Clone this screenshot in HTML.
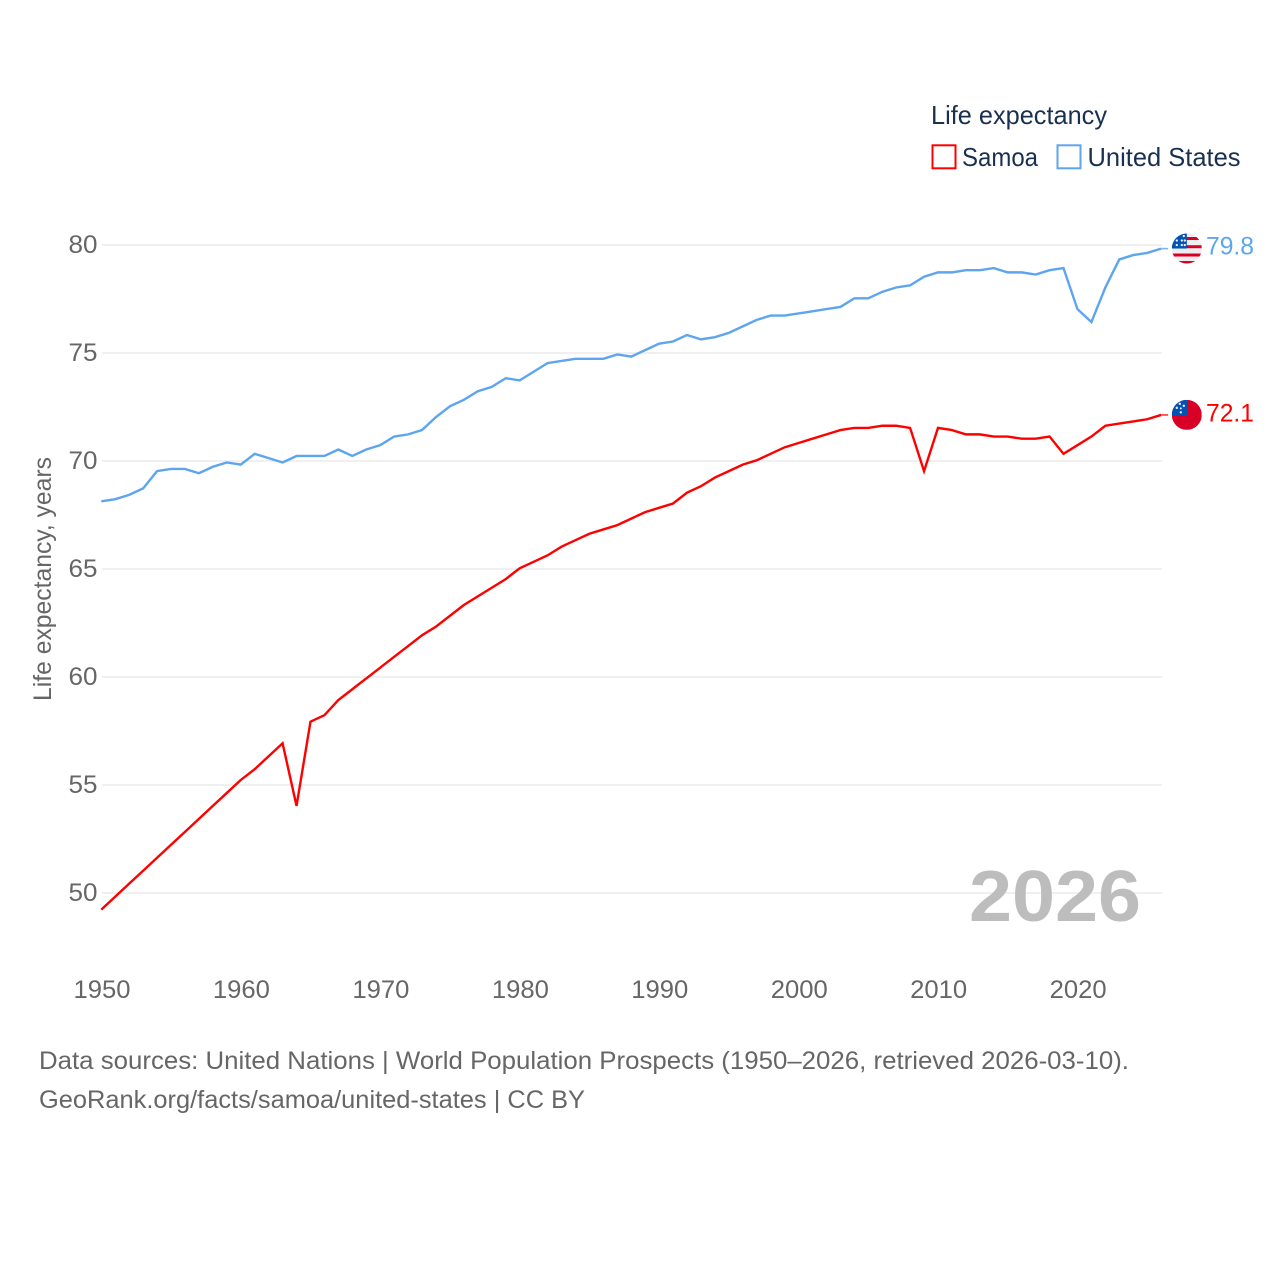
<!DOCTYPE html>
<html lang="en">
<head>
<meta charset="utf-8">
<title>Life expectancy: Samoa and United States</title>
<style>
html,body{margin:0;padding:0;background:#fff;width:1280px;height:1280px;overflow:hidden}
svg{display:block}
text{font-family:"Liberation Sans",sans-serif}
.tick{font-size:25px;fill:#666}
.foot{font-size:25px;fill:#666}
.leg{font-size:26px;fill:#1a3050}
</style>
</head>
<body>
<svg id="chart" xmlns="http://www.w3.org/2000/svg" width="1280" height="1280" viewBox="0 0 1280 1280">
  <defs>
    <clipPath id="us-clip"><circle cx="0" cy="0" r="15"/></clipPath>
    <clipPath id="ws-clip"><circle cx="0" cy="0" r="15"/></clipPath>
  </defs>
  <g id="grid"></g>
  <g id="yticks"></g>
  <g id="xticks"></g>
  <text transform="translate(51,701) rotate(-90)" font-size="25" fill="#666" textLength="244" lengthAdjust="spacingAndGlyphs">Life expectancy, years</text>
  <text x="969" y="921" font-size="72" font-weight="bold" fill="#bdbdbd" textLength="172" lengthAdjust="spacingAndGlyphs">2026</text>
  <g id="series" transform="translate(-0.7,-0.7)"></g>
  <g id="us-flag">
    <g clip-path="url(#us-clip)">
      <rect x="-15" y="-15" width="30" height="30" fill="#eeeeee"/>
      <rect x="-15" y="-11.5" width="30" height="3" fill="#d80027"/>
      <rect x="-15" y="-3.3" width="30" height="3" fill="#d80027"/>
      <rect x="-15" y="5" width="30" height="3" fill="#d80027"/>
      <rect x="-15" y="12.5" width="30" height="3" fill="#d80027"/>
      <rect x="-15" y="-15" width="15" height="15" fill="#0052b4"/>
      <circle cx="-10" cy="-3.5" r="1.2" fill="#eee"/>
      <circle cx="-5" cy="-3.5" r="1.2" fill="#eee"/>
      <circle cx="-2" cy="-3.5" r="1.2" fill="#eee"/>
      <circle cx="-10" cy="-8" r="1.2" fill="#eee"/>
      <circle cx="-5" cy="-8" r="1.2" fill="#eee"/>
      <circle cx="-2" cy="-8" r="1.2" fill="#eee"/>
      <circle cx="-3" cy="-12.5" r="1.2" fill="#eee"/>
    </g>
  </g>
  <g id="ws-flag">
    <g clip-path="url(#ws-clip)">
      <rect x="-15" y="-15" width="30" height="30" fill="#d80027"/>
      <rect x="-15" y="-15" width="15.5" height="15.5" fill="#0052b4"/>
      <circle cx="-7" cy="-11" r="1.2" fill="#eee"/>
      <circle cx="-3" cy="-9" r="1.2" fill="#eee"/>
      <circle cx="-10" cy="-7" r="1.2" fill="#eee"/>
      <circle cx="-6" cy="-6.5" r="1" fill="#eee"/>
      <circle cx="-6" cy="-2.5" r="1.2" fill="#eee"/>
    </g>
  </g>
  <text id="us-value" x="1206" font-size="25" fill="#5ea5ef" textLength="48" lengthAdjust="spacingAndGlyphs"></text>
  <text id="ws-value" x="1206" font-size="25" fill="#ff0000" textLength="48" lengthAdjust="spacingAndGlyphs"></text>

  <g>
    <text class="leg" x="931" y="124" textLength="176" lengthAdjust="spacingAndGlyphs">Life expectancy</text>
    <rect x="932.5" y="145.3" width="23" height="23" fill="#fff" stroke="#ff0000" stroke-width="2"/>
    <text class="leg" x="962" y="166" textLength="76" lengthAdjust="spacingAndGlyphs">Samoa</text>
    <rect x="1057.5" y="145.3" width="23" height="23" fill="#fff" stroke="#5ea5ef" stroke-width="2"/>
    <text class="leg" x="1087.5" y="166" textLength="153" lengthAdjust="spacingAndGlyphs">United States</text>
  </g>

  <text class="foot" x="39" y="1069" textLength="1090" lengthAdjust="spacingAndGlyphs">Data sources: United Nations | World Population Prospects (1950–2026, retrieved 2026-03-10).</text>
  <text class="foot" x="39" y="1108" textLength="546" lengthAdjust="spacingAndGlyphs">GeoRank.org/facts/samoa/united-states | CC BY</text>
</svg>
<script>
const startYear = 1950;
const samoa = [
  49.2,49.8,50.4,51.0,51.6,52.2,52.8,53.4,54.0,54.6,
  55.2,55.7,56.3,56.9,54.0,57.9,58.2,58.9,59.4,59.9,
  60.4,60.9,61.4,61.9,62.3,62.8,63.3,63.7,64.1,64.5,
  65.0,65.3,65.6,66.0,66.3,66.6,66.8,67.0,67.3,67.6,
  67.8,68.0,68.5,68.8,69.2,69.5,69.8,70.0,70.3,70.6,
  70.8,71.0,71.2,71.4,71.5,71.5,71.6,71.6,71.5,69.5,
  71.5,71.4,71.2,71.2,71.1,71.1,71.0,71.0,71.1,70.3,
  70.7,71.1,71.6,71.7,71.8,71.9,72.1
];
const unitedStates = [
  68.1,68.2,68.4,68.7,69.5,69.6,69.6,69.4,69.7,69.9,
  69.8,70.3,70.1,69.9,70.2,70.2,70.2,70.5,70.2,70.5,
  70.7,71.1,71.2,71.4,72.0,72.5,72.8,73.2,73.4,73.8,
  73.7,74.1,74.5,74.6,74.7,74.7,74.7,74.9,74.8,75.1,
  75.4,75.5,75.8,75.6,75.7,75.9,76.2,76.5,76.7,76.7,
  76.8,76.9,77.0,77.1,77.5,77.5,77.8,78.0,78.1,78.5,
  78.7,78.7,78.8,78.8,78.9,78.7,78.7,78.6,78.8,78.9,
  77.0,76.4,78.0,79.3,79.5,79.6,79.8
];
const yTickValues = [50,55,60,65,70,75,80];
const xTickValues = [1950,1960,1970,1980,1990,2000,2010,2020];

const NS = 'http://www.w3.org/2000/svg';
function xScale(year){ return 102 + (year - 1950) * 13.945; }
function yScale(v){ return 893 - (v - 50) * 21.6; }
function make(tag, attrs, parent){
  const el = document.createElementNS(NS, tag);
  for (const k in attrs) el.setAttribute(k, attrs[k]);
  parent.appendChild(el);
  return el;
}
const grid = document.getElementById('grid');
const yticks = document.getElementById('yticks');
const xticks = document.getElementById('xticks');
const seriesG = document.getElementById('series');
const xEnd = xScale(startYear + samoa.length - 1);

yTickValues.forEach(function(v){
  const line = make('line', {x1:102, x2:1162, y1:yScale(v), y2:yScale(v), stroke:'#ececec', 'stroke-width':1.5}, grid);
  
  
  const t = make('text', {x:97.5, y:yScale(v)+8, 'text-anchor':'end', class:'tick', textLength:29, lengthAdjust:'spacingAndGlyphs'}, yticks);
  t.textContent = String(v);
  
  
});
xTickValues.forEach(function(y){
  const t = make('text', {x:xScale(y)-28.5, y:998, class:'tick', textLength:57, lengthAdjust:'spacingAndGlyphs'}, xticks);
  t.textContent = String(y);
  
  
});
function drawSeries(values, color, name){
  const d = values.map(function(v,i){
    return (i ? 'L' : 'M') + xScale(startYear + i).toFixed(2) + ' ' + yScale(v).toFixed(2);
  }).join(' ');
  const p = make('path', {d:d, fill:'none', stroke:color, 'stroke-width':2.4, 'stroke-linejoin':'miter'}, seriesG);
  
  
  const last = yScale(values[values.length-1]);
  const c = make('line', {x1:xEnd, x2:xEnd+7, y1:last, y2:last, stroke:color, 'stroke-width':1.6, opacity:0.8}, seriesG);
  
  
}
drawSeries(unitedStates, '#5ea5ef', 'united-states');
drawSeries(samoa, '#ff0000', 'samoa');

const usLast = unitedStates[unitedStates.length-1];
const wsLast = samoa[samoa.length-1];
document.getElementById('us-flag').setAttribute('transform', 'translate(1186.8,' + (yScale(usLast)-0.8) + ')');
document.getElementById('ws-flag').setAttribute('transform', 'translate(1186.8,' + (yScale(wsLast)-0.8) + ')');
const usV = document.getElementById('us-value');
usV.textContent = usLast.toFixed(1);
usV.setAttribute('y', yScale(usLast) + 5);
const wsV = document.getElementById('ws-value');
wsV.textContent = wsLast.toFixed(1);
wsV.setAttribute('y', yScale(wsLast) + 6);
</script>
</body>
</html>
